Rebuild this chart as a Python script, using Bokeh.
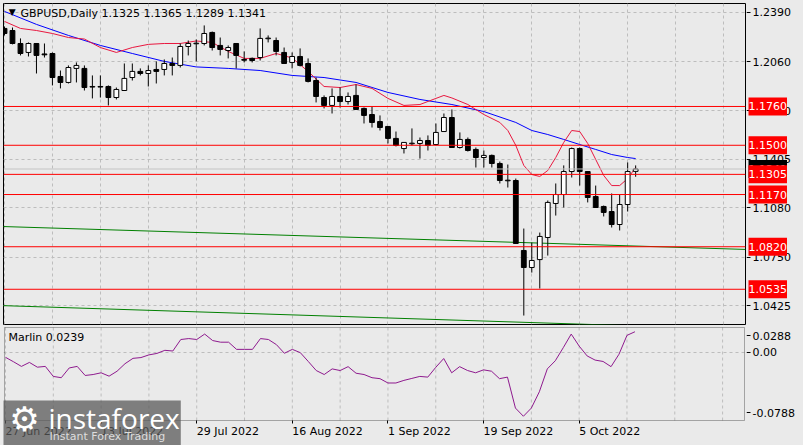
from bokeh.plotting import figure
from bokeh.layouts import column, row
from bokeh.models import (Range1d, FixedTicker, Span, Label, NumeralTickFormatter, LinearAxis,
                          BoxAnnotation)
from bokeh.embed import file_html
from bokeh.resources import INLINE

# ---------------- data ----------------
symbol = "GBPUSD,Daily"
bars = list(range(80))
opens = [1.2283, 1.2269, 1.2182, 1.2122, 1.2182, 1.2112, 1.2115, 1.1961, 1.1921, 1.2015,
         1.2015, 1.1890, 1.1894, 1.1894, 1.1820, 1.1867, 1.1954, 1.1995, 1.1981, 1.2008,
         1.2008, 1.2048, 1.2035, 1.2162, 1.2180, 1.2182, 1.2256, 1.2169, 1.2135, 1.2182,
         1.2075, 1.2082, 1.2088, 1.2214, 1.2202, 1.2122, 1.2055, 1.2095, 1.2048, 1.1934,
         1.1820, 1.1767, 1.1827, 1.1793, 1.1834, 1.1747, 1.1706, 1.1659, 1.1626, 1.1546,
         1.1478, 1.1510, 1.1512, 1.1532, 1.1505, 1.1592, 1.1686, 1.1485, 1.1539, 1.1472,
         1.1418, 1.1432, 1.1378, 1.1262, 1.1264, 1.0795, 1.0681, 1.0734, 1.0882, 1.1110,
         1.1170, 1.1324, 1.1478, 1.1324, 1.1157, 1.1090, 1.1056, 1.0969, 1.1103, 1.1325]
highs = [1.2296, 1.2289, 1.2216, 1.2189, 1.2185, 1.2182, 1.2122, 1.2001, 1.2035, 1.2055,
         1.2035, 1.1968, 1.1968, 1.1901, 1.1887, 1.2048, 1.2048, 1.2015, 1.2035, 1.2062,
         1.2075, 1.2088, 1.2182, 1.2202, 1.2209, 1.2303, 1.2262, 1.2222, 1.2169, 1.2182,
         1.2129, 1.2088, 1.2283, 1.2236, 1.2222, 1.2155, 1.2122, 1.2149, 1.2082, 1.1954,
         1.1834, 1.1881, 1.1887, 1.1854, 1.1907, 1.1753, 1.1760, 1.1700, 1.1626, 1.1592,
         1.1519, 1.1613, 1.1552, 1.1566, 1.1646, 1.1713, 1.1740, 1.1586, 1.1552, 1.1485,
         1.1465, 1.1438, 1.1391, 1.1371, 1.1277, 1.0942, 1.0848, 1.0915, 1.1130, 1.1244,
         1.1365, 1.1485, 1.1485, 1.1324, 1.1230, 1.1096, 1.1177, 1.1170, 1.1385, 1.1365]
lows = [1.2236, 1.2176, 1.2102, 1.2095, 1.1981, 1.2088, 1.1901, 1.1881, 1.1914, 1.1921,
        1.1867, 1.1814, 1.1820, 1.1767, 1.1807, 1.1867, 1.1934, 1.1968, 1.1894, 1.1914,
        1.1968, 1.1968, 1.2021, 1.2102, 1.2062, 1.2169, 1.2135, 1.2102, 1.2082, 1.2015,
        1.2055, 1.2055, 1.2068, 1.2189, 1.2102, 1.2048, 1.2015, 1.2028, 1.1921, 1.1787,
        1.1747, 1.1713, 1.1753, 1.1773, 1.1740, 1.1646, 1.1619, 1.1599, 1.1512, 1.1492,
        1.1445, 1.1499, 1.1411, 1.1465, 1.1499, 1.1592, 1.1485, 1.1478, 1.1458, 1.1351,
        1.1351, 1.1351, 1.1244, 1.1217, 1.0842, 1.0359, 1.0647, 1.0540, 1.0761, 1.1029,
        1.1083, 1.1284, 1.1230, 1.1117, 1.1083, 1.1023, 1.0949, 1.0929, 1.1056, 1.1289]
closes = [1.2249, 1.2182, 1.2115, 1.2182, 1.2102, 1.2106, 1.1954, 1.1921, 1.2021, 1.2035,
          1.1887, 1.1894, 1.1890, 1.1820, 1.1874, 1.1948, 1.1995, 1.1981, 1.2001, 1.1995,
          1.2048, 1.2035, 1.2162, 1.2182, 1.2184, 1.2249, 1.2155, 1.2142, 1.2155, 1.2102,
          1.2070, 1.2068, 1.2216, 1.2218, 1.2129, 1.2048, 1.2095, 1.2035, 1.1928, 1.1827,
          1.1767, 1.1827, 1.1793, 1.1827, 1.1740, 1.1700, 1.1653, 1.1619, 1.1546, 1.1499,
          1.1519, 1.1514, 1.1532, 1.1499, 1.1586, 1.1686, 1.1485, 1.1539, 1.1465, 1.1418,
          1.1432, 1.1378, 1.1264, 1.1266, 1.0842, 1.0681, 1.0728, 1.0889, 1.1117, 1.1170,
          1.1324, 1.1478, 1.1324, 1.1150, 1.1083, 1.1050, 1.0969, 1.1103, 1.1324, 1.1341]

blue_ma_x = [0, 4, 8, 12, 16, 20, 24, 28, 32, 36, 40, 44, 48, 52, 56, 60, 64, 66, 68, 70, 72, 74, 76, 78, 79]
blue_ma_y = [1.2397, 1.2310, 1.2236, 1.2169, 1.2115, 1.2062, 1.2025, 1.2015, 1.2001, 1.1968,
             1.1954, 1.1921, 1.1854, 1.1807, 1.1773, 1.1726, 1.1653, 1.1599, 1.1572, 1.1539,
             1.1505, 1.1472, 1.1438, 1.1418, 1.1411]
red_ma_x = [0, 2, 4, 6, 8, 10, 12, 14, 16, 18, 20, 22, 24, 26, 28, 30, 32, 34, 36, 38, 40, 42,
            44, 46, 48, 50, 52, 54, 55, 56, 58, 60, 62, 63, 64, 65, 66, 67, 68, 69, 70, 71, 72,
            73, 74, 75, 76, 77, 78, 79]
red_ma_y = [1.2330, 1.2283, 1.2269, 1.2249, 1.2222, 1.2212, 1.2155, 1.2122, 1.2155, 1.2176,
            1.2182, 1.2182, 1.2199, 1.2189, 1.2129, 1.2082, 1.2082, 1.2115, 1.2085, 1.1995,
            1.1894, 1.1887, 1.1907, 1.1881, 1.1814, 1.1767, 1.1773, 1.1814, 1.1834, 1.1817,
            1.1773, 1.1706, 1.1653, 1.1599, 1.1499, 1.1365, 1.1304, 1.1291, 1.1331, 1.1418,
            1.1519, 1.1599, 1.1592, 1.1512, 1.1405, 1.1298, 1.1230, 1.1230, 1.1277, 1.1351]

trend_x = [-0.5, 92.75]
upper_trend_y = [1.0956, 1.0802]
lower_trend_y = [1.0426, 1.0266]

levels = [1.1760, 1.1500, 1.1305, 1.1170, 1.0820, 1.0535]
price_ticks = [1.2390, 1.2060, 1.1730, 1.1405, 1.1080, 1.0750, 1.0425]

marlin = [-0.0057, -0.0108, -0.0162, -0.0116, -0.0171, -0.0162, -0.0278, -0.0293, -0.0180, -0.0162,
          -0.0267, -0.0256, -0.0236, -0.0275, -0.0218, -0.0131, -0.0069, -0.0060, -0.0029, -0.0012,
          0.0024, 0.0016, 0.0149, 0.0160, 0.0149, 0.0212, 0.0137, 0.0118, 0.0118, 0.0035,
          0.0035, 0.0035, 0.0160, 0.0149, 0.0090, -0.0010, 0.0035, -0.0003, -0.0105, -0.0210,
          -0.0256, -0.0191, -0.0210, -0.0165, -0.0241, -0.0256, -0.0293, -0.0304, -0.0354, -0.0354,
          -0.0324, -0.0301, -0.0278, -0.0286, -0.0173, -0.0071, -0.0236, -0.0165, -0.0210, -0.0236,
          -0.0202, -0.0218, -0.0304, -0.0286, -0.0644, -0.0739, -0.0644, -0.0456, -0.0191, -0.0097,
          0.0054, 0.0212, 0.0073, -0.0041, -0.0089, -0.0105, -0.0165, -0.0021, 0.0197, 0.0239]
marlin_max = 0.0288
marlin_min = -0.0788

date_ticks = [0, 12, 24, 36, 48, 60, 72]
date_labels = ["27 Jun 2022", "13 Jul 2022", "29 Jul 2022", "16 Aug 2022",
               "1 Sep 2022", "19 Sep 2022", "5 Oct 2022"]
grid_x = list(range(0, 93, 6))

# ---------------- layout / style constants ----------------
BG = "#EAEAEA"
GRID = "#BDBDBD"
FONT = "DejaVu Sans"
LOGO = "#5A5A5A"
LW, RW = 746, 57
X0, X1 = -0.125, 92.75                   # visible bar span of the chart frame
PXB = (745 - 3) / (X1 - X0)              # pixels per bar in the price panel
XR = Range1d(X0, X1)
PY = Range1d(1.0299, 1.2450)
# lower panel: frame 326..445, Marlin data area 327..420
MPX = (marlin_max - marlin_min) / 93.0   # value per pixel
QY = Range1d(marlin_min - 25 * MPX, marlin_max + 1 * MPX)
QX = Range1d(X0 - 1 / PXB, X1 + 1 / PXB)


def base_fig(w, h, xr, yr, top, bottom, left, right):
    return figure(width=w, height=h, x_range=xr, y_range=yr, output_backend="svg",
                  toolbar_location=None, x_axis_location=None, y_axis_location=None,
                  min_border_left=left, min_border_right=right, min_border_top=top,
                  min_border_bottom=bottom, background_fill_color=BG, border_fill_color=BG)


def style_axis(ax):
    ax.axis_line_color = None
    ax.major_tick_line_color = "black"
    ax.major_tick_out = 4
    ax.major_tick_in = 0
    ax.minor_tick_out = 0
    ax.minor_tick_in = 0
    ax.major_label_text_font = FONT
    ax.major_label_text_font_size = "11px"
    ax.major_label_text_color = "black"
    ax.major_label_standoff = 2


def dashed(g):
    g.grid_line_color = GRID
    g.grid_line_dash = "3 3"
    g.grid_line_width = 1


def tag(f, y, text, color):
    f.add_layout(Label(x=2, y=y, text=text, text_align="left", text_baseline="middle",
                       text_font=FONT, text_font_size="11px", text_color="white",
                       background_fill_color=color, padding=(0, 5)))


# ---------------- main price panel ----------------
p = base_fig(LW, 325, XR, PY, 3, 1, 3, 1)
p.outline_line_color = "black"
p.xgrid.ticker = FixedTicker(ticks=grid_x)
p.ygrid.ticker = FixedTicker(ticks=price_ticks)
dashed(p.xgrid)
dashed(p.ygrid)

p.line(trend_x, upper_trend_y, line_color="#008000", line_width=1)
p.line(trend_x, lower_trend_y, line_color="#008000", line_width=1)
p.add_layout(Span(location=closes[-1], dimension="width", line_color="#C4C4C4", line_width=1))
for lv in levels:
    p.add_layout(Span(location=lv, dimension="width", line_color="#FF0000", line_width=1))

p.line(blue_ma_x, blue_ma_y, line_color="#0000FF", line_width=1)
p.line(red_ma_x, red_ma_y, line_color="#E8173F", line_width=1)

inc_x = [b for b in bars if closes[b] >= opens[b]]
dec_x = [b for b in bars if closes[b] < opens[b]]
p.segment(x0=bars, y0=highs, x1=bars, y1=lows, line_color="black", line_width=1)
p.vbar(x=inc_x, width=0.6, top=[closes[b] for b in inc_x], bottom=[opens[b] for b in inc_x],
       fill_color="white", line_color="black", line_width=1)
p.vbar(x=dec_x, width=0.6, top=[opens[b] for b in dec_x], bottom=[closes[b] for b in dec_x],
       fill_color="black", line_color="black", line_width=1)

p.add_layout(Label(x=0.95, y=1.2392, text="\u25BC", text_align="center", text_baseline="middle",
                   text_font=FONT, text_font_size="9px", text_color="black"))
head = f"{symbol}  {opens[-1]:.4f} {highs[-1]:.4f} {lows[-1]:.4f} {closes[-1]:.4f}"
p.add_layout(Label(x=2.0, y=1.2383, text=head, text_align="left", text_baseline="middle",
                   text_font=FONT, text_font_size="11px", text_color="black"))

# ---------------- price axis column ----------------
t1 = base_fig(RW, 325, Range1d(0, RW), PY, 3, 1, 0, 0)
t1.outline_line_color = None
t1.xgrid.visible = False
t1.ygrid.visible = False
pax = LinearAxis(fixed_location=0, ticker=FixedTicker(ticks=price_ticks),
                 formatter=NumeralTickFormatter(format="0.0000"))
style_axis(pax)
t1.add_layout(pax, "right")
tag(t1, closes[-1], f"{closes[-1]:.4f}", "black")
for lv in levels:
    tag(t1, lv, f"{lv:.4f}", "#FF0000")

# ---------------- Marlin panel (with date axis strip) ----------------
q = base_fig(LW, 120, QX, QY, 1, 0, 2, 0)
q.outline_line_color = None
q.xgrid.visible = False
q.ygrid.ticker = FixedTicker(ticks=[0.0])
dashed(q.ygrid)
q.segment(x0=grid_x, y0=[marlin_min] * len(grid_x), x1=grid_x, y1=[marlin_max] * len(grid_x),
          line_color=GRID, line_dash="3 3", line_width=1)
q.line(bars, marlin, line_color="#8E1A8E", line_width=1)
q.add_layout(BoxAnnotation(left=X0, right=X1, bottom=marlin_min, top=marlin_max,
                           fill_alpha=0, line_color="black", line_width=1))
q.add_layout(Label(x=0.37, y=marlin_max - 10 * MPX, text=f"Marlin {marlin[-1]:.4f}",
                   text_align="left", text_baseline="middle",
                   text_font=FONT, text_font_size="11px", text_color="black"))

dax = LinearAxis(fixed_location=marlin_min, ticker=FixedTicker(ticks=date_ticks))
dax.major_label_overrides = {t: s for t, s in zip(date_ticks, date_labels)}
style_axis(dax)
dax.major_tick_out = 3
dax.major_label_standoff = 8
dax.major_label_orientation = -1e-9
q.add_layout(dax, "below")

t2 = base_fig(RW, 120, Range1d(0, RW), QY, 1, 0, 0, 0)
t2.outline_line_color = None
t2.xgrid.visible = False
t2.ygrid.visible = False
m_ticks = [marlin_max - 8 * MPX, 0.0, marlin_min + 8 * MPX]
max_ = LinearAxis(fixed_location=0, ticker=FixedTicker(ticks=m_ticks))
max_.major_label_overrides = {m_ticks[0]: f"{marlin_max:.4f}", m_ticks[1]: "0.00",
                              m_ticks[2]: f"{marlin_min:.4f}"}
style_axis(max_)
t2.add_layout(max_, "right")

# ---------------- watermark ----------------
q.add_layout(BoxAnnotation(left=QX.start - 1, right=22.0, bottom=QY.start - 1,
                           top=marlin_max - 73 * MPX,
                           fill_color=LOGO, fill_alpha=0.75, line_color=None))
q.add_layout(Label(x=45, y=28, x_units="screen", y_units="screen", text="instaforex",
                   text_align="left", text_baseline="middle", text_font="Open Sans",
                   text_font_size="28px", text_color="white"))
q.add_layout(Label(x=21, y=27, x_units="screen", y_units="screen", text="\u2699",
                   text_align="center", text_baseline="middle", text_font=FONT,
                   text_font_size="34px", text_color="white"))
q.add_layout(Label(x=46, y=9, x_units="screen", y_units="screen", text="Instant Forex Trading",
                   text_align="left", text_baseline="middle", text_font=FONT,
                   text_font_size="11px", text_color="#DDDDDD"))

layout = row(column(p, q, spacing=0), column(t1, t2, spacing=0), spacing=0, background=BG)
open("out.html", "w").write(file_html(layout, INLINE))
